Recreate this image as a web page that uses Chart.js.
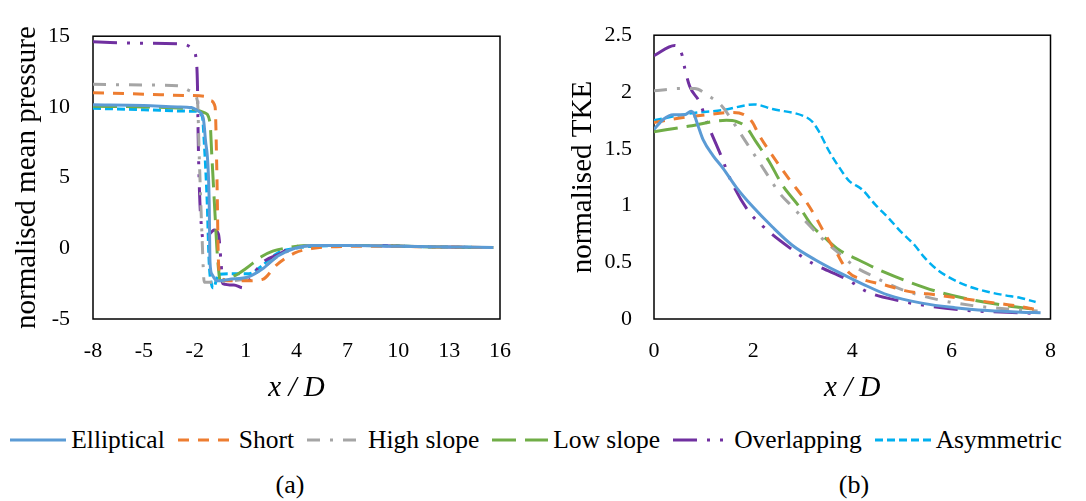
<!DOCTYPE html>
<html>
<head>
<meta charset="utf-8">
<script src="https://cdn.jsdelivr.net/npm/chart.js@4.4.1/dist/chart.umd.min.js"></script>
<style>
  html, body { margin: 0; padding: 0; background: #fff; }
  body { width: 1086px; height: 501px; position: relative; overflow: hidden;
         font-family: 'Liberation Serif', 'Times New Roman', serif; color: #000; }
  .wrap { position: absolute; top: 0; height: 410px; }
  #wrapA { left: 0; width: 530px; }
  #wrapB { left: 540px; width: 535px; }
  #legend { position: absolute; top: 424px; left: 0; width: 1072px; display: flex;
            justify-content: center; gap: 13px; font-size: 25.5px; line-height: 32px; }
  .item { display: flex; align-items: center; }
  .item svg { margin-right: 5px; }
  .cap { position: absolute; top: 470px; width: 80px; text-align: center; font-size: 26px; }
</style>
</head>
<body>
<div class="wrap" id="wrapA"><canvas id="chartA"></canvas></div>
<div class="wrap" id="wrapB"><canvas id="chartB"></canvas></div>
<div id="legend"></div>
<div class="cap" style="left:250px">(a)</div>
<div class="cap" style="left:814px">(b)</div>
<script>
// series names
const seriesNames = ['Elliptical', 'Short', 'High slope', 'Low slope', 'Overlapping', 'Asymmetric'];

// (a) normalised mean pressure vs x/D
const ellipticalXA = [-8, -5, -3, -2.2, -1.8, -1.5, -1.38, -1.15, -1.1, -0.98, -0.7, 0, 1.2, 2, 2.9, 3.9, 4.9, 7, 10, 13, 15.6];
const ellipticalP  = [10.15, 10.1, 10.0, 9.95, 9.7, 9.2, 7.8, 3.4, -1.0, -1.85, -2.3, -2.2, -2.0, -1.45, -0.55, 0, 0.2, 0.2, 0.15, 0.1, 0.05];
const shortXA = [-8, -5, -2.2, -1.4, -1.1, -0.8, -0.7, -0.6, -0.5, -0.1, 1.0, 2.0, 2.8, 3.9, 5.0, 6.0, 8, 12, 15.6];
const shortP  = [11.0, 10.9, 10.8, 10.75, 10.45, 10.0, 5.6, -1.0, -1.85, -2.3, -2.3, -2.2, -1.2, -0.33, 0, 0.1, 0.15, 0.1, 0.05];
const highXA = [-8, -5, -3, -2.2, -1.84, -1.73, -1.56, -1.44, -1.2, 0, 1.15, 2, 3, 4, 5, 8, 12, 15.6];
const highP  = [11.6, 11.55, 11.5, 11.1, 10.4, 6.3, 0.5, -2.4, -2.4, -2.3, -2.1, -1.4, -0.5, 0, 0.2, 0.2, 0.1, 0.05];
const lowXA = [-8, -5, -2.2, -1.44, -1.1, -1.0, -0.8, -0.7, -0.6, -0.5, 0, 0.5, 1.0, 2.0, 2.6, 3.3, 4.5, 8, 12, 15.6];
const lowP  = [10.05, 10.0, 9.85, 9.6, 8.9, 6.7, 2.3, 0.1, -1.45, -2.3, -2.1, -1.85, -1.45, -0.55, -0.2, 0, 0.2, 0.2, 0.1, 0.05];
const overXA = [-8, -5, -2.8, -2.13, -1.9, -1.84, -1.8, -1.72, -1.6, -1.5, -1.2, -0.85, -0.6, -0.45, -0.35, 0.3, 0.86, 1.3, 2.0, 3.0, 3.6, 5, 8, 12, 15.6];
const overP  = [14.6, 14.5, 14.45, 14.1, 13.2, 11.5, 8.0, 4.0, 1.45, 0.6, 0.9, 1.3, 1.0, -1.0, -2.5, -2.6, -2.8, -2.1, -1.0, -0.4, 0, 0.2, 0.2, 0.1, 0.05];
const asymXA = [-8, -5, -2.2, -2.0, -1.55, -1.44, -1.27, -1.15, -1.0, -0.9, -0.6, 0, 1.2, 2.0, 2.9, 3.9, 5, 8, 12, 15.6];
const asymP  = [9.9, 9.8, 9.7, 9.7, 9.3, 7.5, 3.4, -1.0, -2.6, -2.8, -1.85, -1.8, -1.8, -1.2, -0.33, 0, 0.15, 0.2, 0.1, 0.05];

// (b) normalised TKE vs x/D
const ellipticalXB = [0, 0.19, 0.39, 0.62, 0.75, 0.8, 0.89, 0.99, 1.19, 1.39, 1.66, 1.99, 2.39, 2.79, 3.26, 3.73, 4.2, 4.73, 5.4, 6.07, 6.73, 7.4, 7.8];
const ellipticalK  = [1.67, 1.76, 1.80, 1.80, 1.83, 1.81, 1.70, 1.58, 1.44, 1.33, 1.16, 0.99, 0.81, 0.65, 0.52, 0.41, 0.31, 0.21, 0.14, 0.10, 0.075, 0.06, 0.055];
const shortXB = [0, 0.52, 1.06, 1.59, 1.86, 1.99, 2.12, 2.39, 2.73, 3.06, 3.26, 3.46, 3.66, 3.93, 4.2, 4.66, 5.06, 5.73, 6.4, 7.07, 7.4, 7.74];
const shortK  = [1.73, 1.77, 1.80, 1.82, 1.79, 1.73, 1.62, 1.44, 1.23, 1.04, 0.90, 0.74, 0.60, 0.41, 0.35, 0.30, 0.25, 0.21, 0.17, 0.13, 0.11, 0.08];
const highXB = [0, 0.52, 0.82, 1.12, 1.36, 1.56, 1.72, 1.99, 2.26, 2.53, 2.79, 3.06, 3.39, 3.73, 4.06, 4.4, 4.73, 5.06, 5.73, 6.4, 7.07, 7.74];
const highK  = [2.01, 2.03, 2.03, 1.96, 1.88, 1.76, 1.65, 1.47, 1.29, 1.11, 0.99, 0.86, 0.71, 0.58, 0.46, 0.38, 0.31, 0.25, 0.17, 0.12, 0.09, 0.07];
const lowXB = [0, 0.72, 1.46, 1.66, 1.86, 2.06, 2.32, 2.59, 2.93, 3.19, 3.46, 3.73, 4.13, 4.66, 5.06, 5.73, 6.4, 7.07, 7.8];
const lowK  = [1.65, 1.70, 1.75, 1.74, 1.69, 1.56, 1.39, 1.18, 0.99, 0.82, 0.71, 0.61, 0.52, 0.41, 0.34, 0.24, 0.17, 0.12, 0.08];
const overXB = [0, 0.42, 0.57, 0.62, 0.72, 0.92, 1.08, 1.36, 1.54, 1.89, 2.24, 2.79, 3.2, 3.93, 4.3, 4.96, 5.46, 6.2, 6.7, 7.4, 7.67];
const overK  = [2.32, 2.41, 2.32, 2.21, 2.05, 1.91, 1.72, 1.43, 1.23, 0.96, 0.80, 0.61, 0.49, 0.34, 0.24, 0.16, 0.12, 0.08, 0.066, 0.055, 0.05];
const asymXB = [0, 0.72, 1.39, 2.02, 2.39, 3.06, 3.19, 3.33, 3.53, 3.73, 3.93, 4.2, 4.46, 4.73, 5.0, 5.26, 5.46, 5.73, 6.07, 6.4, 6.73, 7.07, 7.4, 7.7];
const asymK  = [1.75, 1.81, 1.84, 1.89, 1.85, 1.78, 1.74, 1.65, 1.48, 1.34, 1.22, 1.14, 1.01, 0.89, 0.76, 0.65, 0.54, 0.43, 0.34, 0.28, 0.24, 0.21, 0.185, 0.15];

// tick labels
const xTicksA = [-8, -5, -2, 1, 4, 7, 10, 13, 16];
const yTicksA = [-5, 0, 5, 10, 15];
const xTicksB = [0, 2, 4, 6, 8];
const yTicksB = [0, 0.5, 1, 1.5, 2, 2.5];

// line styles (Excel-like)
const colors = ['#5B9BD5', '#ED7D31', '#A5A5A5', '#70AD47', '#7030A0', '#00B0F0'];
const dashes = [[], [11, 9], [13, 10, 3, 10], [24, 9], [24, 10, 3, 10, 3, 10], [8, 4]];

Chart.defaults.font.family = "'Liberation Serif', 'Times New Roman', serif";
Chart.defaults.color = '#000';

const frame = {
  id: 'frame',
  beforeDatasetsDraw(chart) {
    const { ctx, chartArea: a } = chart;
    ctx.save();
    ctx.strokeStyle = '#000';
    ctx.lineWidth = 1.5;
    ctx.strokeRect(a.left, a.top, a.right - a.left, a.bottom - a.top);
    ctx.restore();
  }
};

function series(i, xs, ys, width) {
  return {
    label: seriesNames[i],
    data: xs.map((x, j) => ({ x: x, y: ys[j] })),
    showLine: true,
    borderColor: colors[i],
    borderDash: dashes[i],
    borderWidth: width,
    pointRadius: 0,
    fill: false,
    cubicInterpolationMode: 'monotone'
  };
}

function axes(o) {
  return {
    x: {
      type: 'linear', min: o.xTicks[0], max: o.xTicks[o.xTicks.length - 1],
      grid: { display: false, drawTicks: false }, border: { display: false },
      ticks: { padding: o.xPad, font: { size: 22 }, callback: v => String(v) },
      afterBuildTicks: s => { s.ticks = o.xTicks.map(v => ({ value: v })); },
      afterFit: s => { s.height = o.xH; },
      title: { display: true, text: 'x / D', font: { size: 29, style: 'italic' }, padding: { top: 0, bottom: 4 } }
    },
    y: {
      type: 'linear', min: o.yTicks[0], max: o.yTicks[o.yTicks.length - 1],
      grid: { display: false, drawTicks: false }, border: { display: false },
      ticks: { padding: o.yPad, font: { size: 22 }, callback: v => String(v) },
      afterBuildTicks: s => { s.ticks = o.yTicks.map(v => ({ value: v })); },
      afterFit: s => { s.width = o.yW; },
      title: { display: true, text: o.yTitle, font: { size: 29 }, padding: { top: o.tPad, bottom: o.tPad } }
    }
  };
}

function baseOptions(padRight, scales) {
  return {
    responsive: true,
    maintainAspectRatio: false,
    animation: false,
    layout: { padding: { top: 16, right: padRight, left: 0, bottom: 0 } },
    plugins: { legend: { display: false }, tooltip: { enabled: false } },
    scales: scales
  };
}

new Chart(document.getElementById('chartA'), {
  type: 'scatter',
  data: {
    datasets: [
      series(0, ellipticalXA, ellipticalP, 3),
      series(1, shortXA, shortP, 3),
      series(2, highXA, highP, 3),
      series(3, lowXA, lowP, 3),
      series(4, overXA, overP, 3),
      series(5, asymXA, asymP, 3)
    ]
  },
  options: baseOptions(20, axes({ xTicks: xTicksA, yTicks: yTicksA, xPad: 19, yPad: 23, xH: 91, yW: 93,
                                  tPad: 9.5, yTitle: 'normalised mean pressure' })),
  plugins: [frame]
});

new Chart(document.getElementById('chartB'), {
  type: 'scatter',
  data: {
    datasets: [
      series(0, ellipticalXB, ellipticalK, 3),
      series(1, shortXB, shortK, 3),
      series(2, highXB, highK, 3),
      series(3, lowXB, lowK, 3),
      series(4, overXB, overK, 3),
      series(5, asymXB, asymK, 2.5)
    ]
  },
  options: baseOptions(22, axes({ xTicks: xTicksB, yTicks: yTicksB, xPad: 19, yPad: 22, xH: 91, yW: 114,
                                  tPad: 25.5, yTitle: 'normalised TKE' })),
  plugins: [frame]
});

// shared legend below both charts
const legend = document.getElementById('legend');
seriesNames.forEach((name, i) => {
  const item = document.createElement('div');
  item.className = 'item';
  const dash = dashes[i].length ? dashes[i].join(' ') : 'none';
  item.innerHTML = '<svg width="56" height="12"><line x1="0" y1="6" x2="56" y2="6" stroke="' + colors[i] +
    '" stroke-width="3" stroke-dasharray="' + dash + '"/></svg><span>' + name + '</span>';
  legend.appendChild(item);
});
</script>
</body>
</html>
